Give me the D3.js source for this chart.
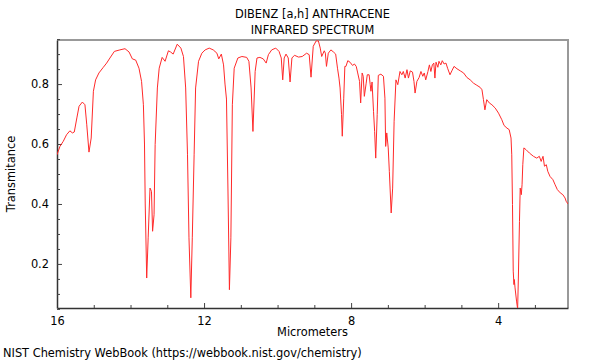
<!DOCTYPE html>
<html>
<head>
<meta charset="utf-8">
<script src="https://cdn.jsdelivr.net/npm/d3@7"></script>
<style>
html,body{margin:0;padding:0;background:#fff;}
svg{display:block;font-family:"DejaVu Sans",sans-serif;}
</style>
</head>
<body>
<svg id="chart" width="600" height="360"></svg>
<script>
const titleLines = ["DIBENZ [a,h] ANTHRACENE", "INFRARED SPECTRUM"];
const xLabel = "Micrometers";
const yLabel = "Transmitance";
const footer = "NIST Chemistry WebBook (https://webbook.nist.gov/chemistry)";
const xTicks = [16, 12, 8, 4];
const yTicks = [0.2, 0.4, 0.6, 0.8];

// wavelength (micrometers)
const wavelength = [
16.00,15.92,15.83,15.74,15.65,15.58,15.53,15.46,15.40,15.31,15.24,15.19,15.13,15.07,15.01,14.95,14.86,14.74,14.65,14.56,14.44,14.29,14.15,14.04,13.95,13.86,13.77,13.70,13.65,13.62,13.60,13.56,13.52,13.47,13.43,13.40,13.36,13.33,13.27,13.22,13.14,13.06,12.97,12.91,12.84,12.73,12.63,12.56,12.50,12.45,12.41,12.36,12.32,12.27,12.23,12.15,12.06,11.97,11.86,11.75,11.65,11.60,11.53,11.47,11.43,11.39,11.35,11.31,11.27,11.23,11.18,11.08,10.97,10.84,10.78,10.72,10.67,10.61,10.56,10.48,10.39,10.31,10.25,10.16,10.05,9.96,9.90,9.86,9.82,9.77,9.71,9.66,9.61,9.54,9.43,9.33,9.21,9.14,9.09,9.03,8.95,8.89,8.84,8.80,8.73,8.70,8.67,8.62,8.55,8.48,8.42,8.37,8.33,8.30,8.26,8.24,8.20,8.17,8.14,8.09,8.03,7.96,7.91,7.86,7.82,7.77,7.74,7.70,7.67,7.64,7.59,7.56,7.51,7.48,7.46,7.43,7.39,7.36,7.33,7.29,7.26,7.19,7.12,7.08,7.06,7.03,6.99,6.96,6.91,6.87,6.83,6.78,6.73,6.67,6.62,6.58,6.53,6.48,6.44,6.39,6.33,6.29,6.26,6.21,6.15,6.10,6.05,6.01,5.97,5.91,5.87,5.83,5.79,5.75,5.72,5.69,5.64,5.61,5.56,5.52,5.47,5.42,5.37,5.31,5.26,5.20,5.12,5.03,4.94,4.85,4.76,4.67,4.58,4.49,4.44,4.40,4.36,4.31,4.24,4.17,4.08,3.99,3.90,3.84,3.76,3.70,3.65,3.63,3.61,3.59,3.57,3.56,3.54,3.50,3.47,3.45,3.42,3.40,3.37,3.35,3.33,3.30,3.24,3.15,3.04,2.95,2.88,2.83,2.78,2.74,2.69,2.65,2.59,2.51,2.45,2.39,2.31,2.24,2.18,2.15,2.10
];
// transmittance
const transmittance = [
0.564,0.592,0.609,0.631,0.644,0.637,0.640,0.687,0.726,0.740,0.731,0.664,0.573,0.620,0.776,0.814,0.837,0.856,0.870,0.887,0.909,0.914,0.918,0.907,0.884,0.880,0.853,0.809,0.731,0.600,0.400,0.153,0.287,0.453,0.442,0.309,0.364,0.598,0.787,0.853,0.889,0.876,0.911,0.907,0.900,0.933,0.920,0.892,0.787,0.564,0.287,0.087,0.287,0.564,0.787,0.876,0.903,0.914,0.920,0.914,0.903,0.884,0.900,0.864,0.800,0.750,0.450,0.114,0.287,0.731,0.853,0.887,0.892,0.889,0.876,0.787,0.642,0.842,0.887,0.889,0.884,0.870,0.898,0.914,0.920,0.909,0.887,0.814,0.887,0.900,0.887,0.807,0.887,0.896,0.890,0.892,0.903,0.898,0.823,0.926,0.944,0.944,0.920,0.892,0.911,0.903,0.859,0.903,0.914,0.907,0.900,0.853,0.820,0.787,0.698,0.626,0.753,0.859,0.859,0.878,0.873,0.862,0.867,0.859,0.837,0.809,0.737,0.837,0.826,0.759,0.803,0.831,0.831,0.798,0.776,0.807,0.709,0.642,0.553,0.698,0.829,0.833,0.826,0.753,0.592,0.637,0.587,0.509,0.370,0.453,0.676,0.814,0.798,0.842,0.831,0.842,0.820,0.848,0.820,0.844,0.840,0.809,0.770,0.809,0.822,0.842,0.826,0.837,0.814,0.842,0.864,0.842,0.864,0.870,0.820,0.873,0.856,0.876,0.864,0.878,0.867,0.870,0.851,0.831,0.844,0.859,0.851,0.844,0.837,0.822,0.814,0.803,0.796,0.789,0.781,0.748,0.714,0.748,0.737,0.731,0.720,0.703,0.681,0.662,0.653,0.648,0.620,0.564,0.398,0.176,0.131,0.148,0.120,0.076,0.050,0.153,0.342,0.453,0.431,0.464,0.531,0.587,0.581,0.570,0.559,0.553,0.559,0.542,0.559,0.526,0.531,0.509,0.492,0.481,0.464,0.448,0.437,0.431,0.420,0.409,0.400
];

const data = wavelength.map((w, i) => ({w, t: transmittance[i]}));

const FS = 11.4;
const svg = d3.select("#chart");
const m = {left: 57, right: 568, top: 40, bottom: 308};

const x = d3.scaleLinear().domain([16, 2.1]).range([m.left, m.right]);
const y = d3.scaleLinear().domain([0.053, 0.947]).range([m.bottom, m.top]);

svg.append("defs").append("clipPath").attr("id", "clip")
  .append("rect").attr("x", m.left).attr("y", m.top)
  .attr("width", m.right - m.left).attr("height", m.bottom - m.top);

// frame (top/right)
svg.append("path")
  .attr("d", `M${m.left},${m.top}H${m.right}V${m.bottom}`)
  .attr("fill", "none").attr("stroke", "#999").attr("stroke-width", 2);

// minor ticks
const xMinor = d3.range(3, 17, 1).filter(v => !xTicks.includes(v));
const yMinor = d3.range(0.05, 0.951, 0.05).map(v => +v.toFixed(2)).filter(v => !yTicks.some(t => Math.abs(t - v) < 1e-6));

const xAxis = d3.axisBottom(x).tickValues(xTicks).tickFormat(d3.format("d")).tickSizeInner(-5).tickSizeOuter(0).tickPadding(9);
const yAxis = d3.axisLeft(y).tickValues(yTicks).tickFormat(d3.format(".1f")).tickSizeInner(-5).tickSizeOuter(0).tickPadding(8);

svg.append("g").attr("transform", `translate(0,${m.bottom})`).call(xAxis);
svg.append("g").attr("transform", `translate(${m.left},0)`).call(yAxis);

svg.append("g").attr("transform", `translate(0,${m.bottom})`)
  .call(d3.axisBottom(x).tickValues(xMinor).tickFormat("").tickSizeInner(-3).tickSizeOuter(0))
  .select(".domain").remove();
svg.append("g").attr("transform", `translate(${m.left},0)`)
  .call(d3.axisLeft(y).tickValues(yMinor).tickFormat("").tickSizeInner(-3).tickSizeOuter(0))
  .select(".domain").remove();

svg.selectAll(".domain").attr("stroke", "#333").attr("stroke-width", 1.5);
svg.selectAll(".tick line").attr("stroke", "#444");
svg.selectAll(".tick text").attr("font-family", "DejaVu Sans").attr("font-size", FS).attr("fill", "#000");

// spectrum
svg.append("path")
  .datum(data)
  .attr("clip-path", "url(#clip)")
  .attr("fill", "none")
  .attr("stroke", "#ff2a2a")
  .attr("stroke-width", 1)
  .attr("stroke-linejoin", "round")
  .attr("d", d3.line().x(d => x(d.w)).y(d => y(d.t)));

// titles
svg.append("g").selectAll("text").data(titleLines).join("text")
  .attr("x", (m.left + m.right) / 2).attr("y", (d, i) => 18 + i * 16)
  .attr("text-anchor", "middle").attr("font-size", FS).text(d => d);

svg.append("text").attr("x", (m.left + m.right) / 2).attr("y", 336)
  .attr("text-anchor", "middle").attr("font-size", FS).text(xLabel);

svg.append("text").attr("transform", `translate(15,${(m.top + m.bottom) / 2}) rotate(-90)`)
  .attr("text-anchor", "middle").attr("font-size", FS).text(yLabel);

svg.append("text").attr("x", 3).attr("y", 357).attr("font-size", FS).text(footer);
</script>
</body>
</html>
